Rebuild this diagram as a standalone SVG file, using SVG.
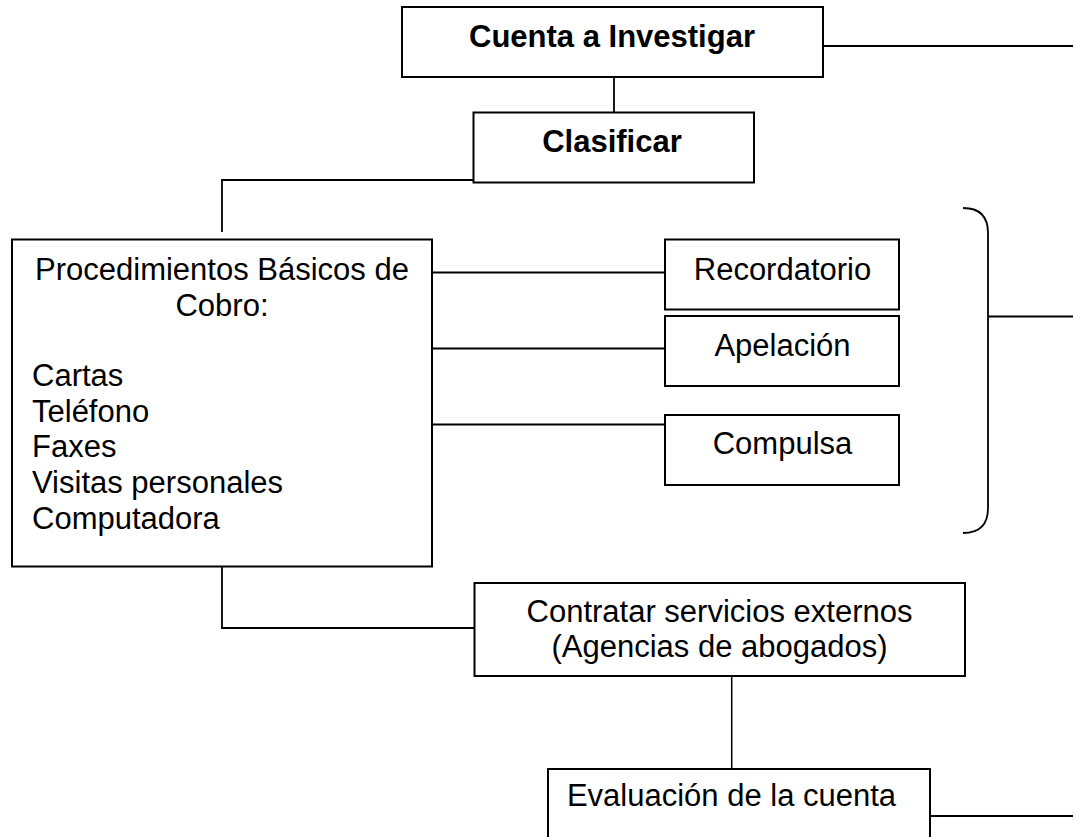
<svg xmlns="http://www.w3.org/2000/svg" width="1074" height="837" viewBox="0 0 1074 837">
<style>
.box{fill:#fff;stroke:#000;stroke-width:2}
.ln{fill:none;stroke:#000;stroke-width:1.8}
.t{font-family:"Liberation Sans",Arial,sans-serif;font-size:31px;fill:#000}
.b{font-weight:bold}
.c{text-anchor:middle}
</style>
<rect width="1074" height="837" fill="#fff"/>
<g id="connectors">
<path class="ln" d="M823,46 H1073"/>
<path class="ln" d="M614,72 V113"/>
<path class="ln" d="M479,180 H222 V232"/>
<path class="ln" d="M432,272.5 H665 M432,348.5 H665 M432,424.5 H665"/>
<path class="ln" d="M222,558 V628 H478"/>
<path class="ln" d="M731.7,676 V769" style="stroke-width:1.5"/>
<path class="ln" d="M923,816 H1073"/>
<path class="ln" d="M963,208 Q988,208 988,233 L988,508 Q988,533 963,533"/>
<path class="ln" d="M988,316.5 H1073"/>
</g>
<g id="cuenta">
<rect class="box" x="402" y="7" width="421" height="70"/>
<text class="t b c" x="612" y="47">Cuenta a Investigar</text>
</g>
<g id="clasificar">
<rect class="box" x="473.5" y="112.5" width="280.5" height="70"/>
<text class="t b c" x="612" y="152">Clasificar</text>
</g>
<g id="procedimientos">
<rect class="box" x="12" y="239.5" width="420" height="327"/>
<text class="t c" x="222" y="279.5">Procedimientos Básicos de</text>
<text class="t c" x="222" y="315.5">Cobro:</text>
<text class="t" x="32" y="386">Cartas</text>
<text class="t" x="32" y="421.5">Teléfono</text>
<text class="t" x="32" y="457">Faxes</text>
<text class="t" x="32" y="493">Visitas personales</text>
<text class="t" x="32" y="528.5">Computadora</text>
</g>
<g id="recordatorio">
<rect class="box" x="665" y="239.5" width="234" height="70"/>
<text class="t c" x="782.5" y="279.5">Recordatorio</text>
</g>
<g id="apelacion">
<rect class="box" x="665" y="316" width="234" height="70"/>
<text class="t c" x="782.5" y="355.5">Apelación</text>
</g>
<g id="compulsa">
<rect class="box" x="665" y="415" width="234" height="70"/>
<text class="t c" x="782.5" y="453.5">Compulsa</text>
</g>
<g id="contratar">
<rect class="box" x="474.5" y="583" width="490.5" height="93"/>
<text class="t c" x="719.5" y="622">Contratar servicios externos</text>
<text class="t c" x="719.5" y="657">(Agencias de abogados)</text>
</g>
<g id="evaluacion">
<rect class="box" x="548" y="769" width="382" height="100"/>
<text class="t c" x="731.5" y="806">Evaluación de la cuenta</text>
</g>
</svg>
